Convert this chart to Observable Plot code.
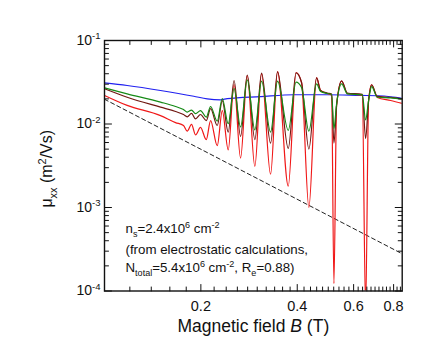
<!DOCTYPE html>
<html><head><meta charset="utf-8">
<script src="https://cdn.jsdelivr.net/npm/d3@7"></script>
<script src="https://cdn.jsdelivr.net/npm/@observablehq/plot@0.6"></script>
<style>html,body{margin:0;padding:0;background:#fff;} #chart{width:436px;height:349px;}</style>
</head><body><div id="chart"></div>
<script>
// Magnetic field B (T) sample positions shared by the oscillating traces
const B = [0.100, 0.1177, 0.1496, 0.1667, 0.1765, 0.1813, 0.1870, 0.1925, 0.1995, 0.2079,
  0.2145, 0.2250, 0.2333, 0.2435, 0.2539, 0.2661, 0.2792, 0.2949, 0.3095, 0.3302,
  0.3472, 0.3750, 0.3966, 0.4126, 0.4349, 0.4597, 0.4732, 0.4966, 0.5122, 0.5208,
  0.5309, 0.5505, 0.5734, 0.6388, 0.6541, 0.6683, 0.6830, 0.7114, 0.7832, 0.851];
const muGreen = [0.0271, 0.0230, 0.0183, 0.0162, 0.0149, 0.0139, 0.0147, 0.0133, 0.0145, 0.0121,
  0.0162, 0.0108, 0.0202, 0.0101, 0.0266, 0.0092, 0.0338, 0.0085, 0.0326, 0.0080,
  0.0326, 0.0084, 0.0317, 0.0274, 0.0082, 0.0303, 0.0245, 0.0232, 0.0226, 0.0088,
  0.0175, 0.0303, 0.0230, 0.0223, 0.0112, 0.0191, 0.0281, 0.0209, 0.0205, 0.0199];
const muDark = [0.0264, 0.0209, 0.0159, 0.0141, 0.0130, 0.0122, 0.0134, 0.0115, 0.0130, 0.0110,
  0.0153, 0.0096, 0.0191, 0.0080, 0.0332, 0.0071, 0.0386, 0.0065, 0.0406, 0.0059,
  0.0422, 0.0051, 0.0410, 0.0314, 0.0050, 0.0356, 0.0252, 0.0235, 0.0229, 0.0059,
  0.0167, 0.0329, 0.0235, 0.0226, 0.0067, 0.0191, 0.0295, 0.0214, 0.0208, 0.0200];
const muRed = [0.0220, 0.0167, 0.0126, 0.0104, 0.0096, 0.0082, 0.0099, 0.0074, 0.0091, 0.0065,
  0.0110, 0.0055, 0.0145, 0.0049, 0.0297, 0.0039, 0.0381, 0.0031, 0.0402, 0.0025,
  0.0425, 0.0018, 0.0414, 0.0314, 0.0010, 0.0360, 0.0252, 0.0232, 0.0220, 0.000123,
  0.0167, 0.0326, 0.0232, 0.0220, 0.00006, 0.0191, 0.0295, 0.0208, 0.0191, 0.0176];
const blueB = [0.100, 0.1177, 0.1496, 0.1901, 0.2094, 0.2304, 0.2417, 0.3073, 0.3905, 0.4966, 0.6310, 0.7114, 0.8414, 0.851];
const muBlue = [0.0311, 0.0289, 0.0252, 0.0215, 0.0200, 0.0195, 0.0201, 0.0213, 0.0224, 0.0224, 0.0220, 0.0218, 0.0204, 0.0202];
const dashB = [0.1, 0.851];
const dashMu = [0.0198, 0.000279];

const xLabelTicks = [0.2, 0.4, 0.6, 0.8];
const xMinorTicks = [0.12, 0.14, 0.16, 0.18, 0.22, 0.24, 0.26, 0.28, 0.30, 0.32, 0.34, 0.36, 0.38,
  0.42, 0.44, 0.46, 0.48, 0.50, 0.52, 0.54, 0.56, 0.58, 0.62, 0.64, 0.66, 0.68, 0.70, 0.72, 0.74, 0.76, 0.78, 0.82, 0.84];
const yDecades = [1e-4, 1e-3, 1e-2, 1e-1];
const yMinorTicks = [1e-4, 1e-3, 1e-2].flatMap(d => [2, 3, 4, 5, 6, 7, 8, 9].map(k => k * d));

const xTitle = "Magnetic field *{B} (T)";
const yTitle = "\u03bc_{xx} (m^{2}/Vs)";
const annText = ["n_{s}=2.4x10^{6} cm^{-2}", "(from electrostatic calculations,", "N_{total}=5.4x10^{6} cm^{-2}, R_{e}=0.88)"];
const annB = [0.1163, 0.1163, 0.1163];
const annMu = [5.5e-4, 3.14e-4, 1.89e-4];

const series = (xs, ys) => xs.map((b, i) => ({B: b, mu: ys[i]}));
const tickShape = {draw(ctx, l) { ctx.moveTo(0, 0); ctx.lineTo(0, -l); }};
const vt = (data, o) => Plot.vector(data, {...o, shape: tickShape, anchor: "start", stroke: "#111", strokeWidth: 1});
const lineOpts = {x: "B", y: "mu", strokeWidth: 1.2, curve: "monotone-x", clip: true};

const svg = Plot.plot({
  width: 436, height: 349,
  marginLeft: 104, marginRight: 34.3, marginTop: 40, marginBottom: 58.5,
  x: {type: "log", domain: [0.1, 0.851], label: null, axis: null},
  y: {type: "log", domain: [1e-4, 1e-1], label: null, axis: null},
  style: {fontFamily: "'Liberation Sans', Arial, Helvetica, sans-serif", background: "#fff", color: "#111"},
  marks: [
    Plot.line(series(dashB, dashMu), {x: "B", y: "mu", stroke: "#222", strokeWidth: 1, strokeDasharray: "4,3"}),
    Plot.line(series(blueB, muBlue), {...lineOpts, stroke: "#2020f0"}),
    Plot.line(series(B, muRed), {...lineOpts, stroke: "#f01818"}),
    Plot.line(series(B, muDark), {...lineOpts, stroke: "#701812"}),
    Plot.line(series(B, muGreen), {...lineOpts, stroke: "#168a16"}),
    vt(xMinorTicks, {x: d => d, frameAnchor: "bottom", length: 4, rotate: 0}),
    vt(xMinorTicks, {x: d => d, frameAnchor: "top", length: 4, rotate: 180}),
    vt(xLabelTicks, {x: d => d, frameAnchor: "bottom", length: 6.5, rotate: 0}),
    vt(xLabelTicks, {x: d => d, frameAnchor: "top", length: 6.5, rotate: 180}),
    vt(yMinorTicks, {y: d => d, frameAnchor: "left", length: 4, rotate: 90}),
    vt(yMinorTicks, {y: d => d, frameAnchor: "right", length: 4, rotate: -90}),
    vt(yDecades, {y: d => d, frameAnchor: "left", length: 7, rotate: 90}),
    vt(yDecades, {y: d => d, frameAnchor: "right", length: 7, rotate: -90}),
    Plot.text(xLabelTicks, {x: d => d, frameAnchor: "bottom", lineAnchor: "top", dy: 10, fontSize: 14.5, text: d => String(d)}),
    Plot.text(yDecades, {y: d => d, frameAnchor: "left", textAnchor: "end", dx: -4, fontSize: 14, text: d => "10^{" + Math.round(Math.log10(d)) + "}"}),
    Plot.text(annText.map((t, i) => ({t, B: annB[i], mu: annMu[i]})), {x: "B", y: "mu", text: "t", textAnchor: "start", fontSize: 13.3}),
    Plot.text([xTitle], {text: d => d, frameAnchor: "bottom", textAnchor: "middle", dy: 40.6, fontSize: 17.5}),
    Plot.text([yTitle], {text: d => d, frameAnchor: "left", textAnchor: "middle", dx: -57.4, dy: 3, rotate: -90, fontSize: 16}),
    Plot.frame({stroke: "#111", strokeWidth: 1.4})
  ]
});
document.getElementById("chart").appendChild(svg);

const NS = "http://www.w3.org/2000/svg";
function richify(t, markup) {
  const fs = parseFloat(getComputedStyle(t).fontSize) || 12;
  const segs = [];
  const re = /([\^_*])\{([^}]*)\}/g;
  let last = 0, m;
  while ((m = re.exec(markup))) {
    if (m.index > last) segs.push({s: markup.slice(last, m.index), k: ""});
    segs.push({s: m[2], k: m[1]});
    last = re.lastIndex;
  }
  if (last < markup.length) segs.push({s: markup.slice(last), k: ""});
  t.textContent = "";
  let shift = 0;
  for (const g of segs) {
    const ts = document.createElementNS(NS, "tspan");
    let target = 0;
    if (g.k === "^") { target = -0.42 * fs; ts.setAttribute("font-size", (0.68 * fs).toFixed(2)); }
    else if (g.k === "_") { target = 0.28 * fs; ts.setAttribute("font-size", (0.68 * fs).toFixed(2)); }
    else if (g.k === "*") ts.setAttribute("font-style", "italic");
    ts.setAttribute("dy", (target - shift).toFixed(2));
    shift = target;
    ts.textContent = g.s;
    t.appendChild(ts);
  }
}
svg.querySelectorAll("text").forEach(t => {
  const s = t.textContent;
  if (/[\^_*]\{/.test(s)) richify(t, s);
});
</script>
</body></html>
